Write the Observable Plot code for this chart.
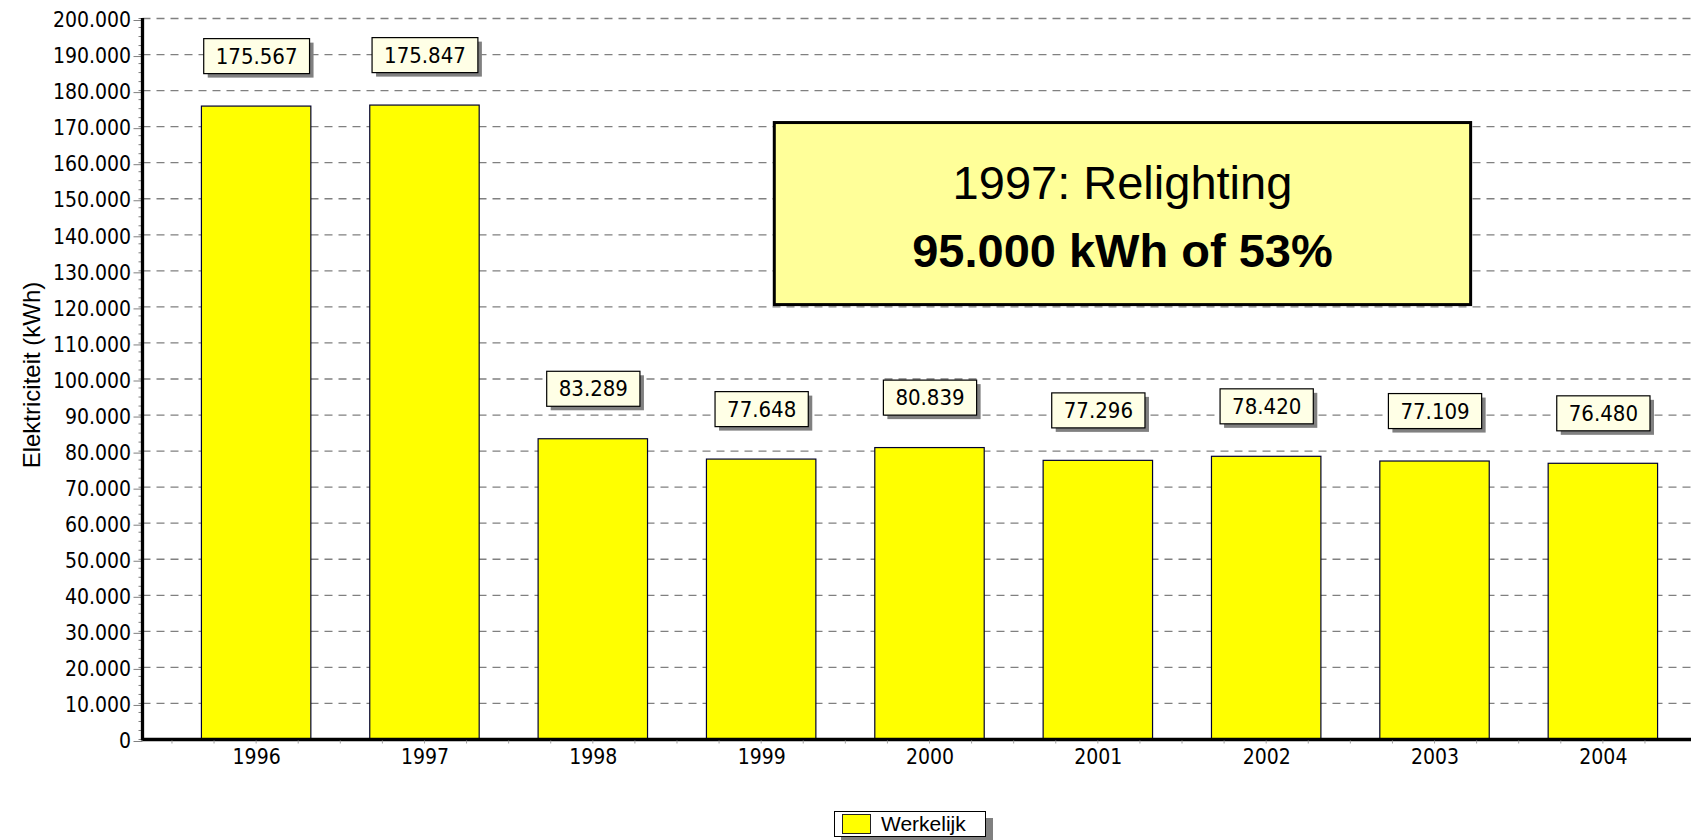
<!DOCTYPE html>
<html>
<head>
<meta charset="utf-8">
<script src="https://cdn.jsdelivr.net/npm/d3@7"></script>
<script src="https://cdn.jsdelivr.net/npm/@observablehq/plot@0.6"></script>
<style>
html, body { margin: 0; padding: 0; background: #fff; overflow: hidden; }
#wrap { position: relative; width: 1691px; height: 840px; overflow: hidden; }
#legend {
  position: absolute; left: 834px; top: 811px; height: 26px; width: 152px;
  box-sizing: border-box; border: 1px solid #000; background: #fff;
  box-shadow: 7px 7px 0 #808080; display: flex; align-items: center;
  font-family: "Liberation Sans", Arial, sans-serif; font-size: 21px; color: #000;
}
#legend .sw { width: 29px; height: 20px; box-sizing: border-box; background: #FFFF00; border: 1px solid #222; margin: 0 10px 0 7px; }
</style>
</head>
<body>
<div id="wrap"><div id="chart"></div><div id="legend"><span class="sw"></span><span id="legend-text"></span></div></div>
<script>
// ---- data ----
const years = ["1996", "1997", "1998", "1999", "2000", "2001", "2002", "2003", "2004"];
const values = [175567, 175847, 83289, 77648, 80839, 77296, 78420, 77109, 76480];
const yTicks = [0, 10000, 20000, 30000, 40000, 50000, 60000, 70000, 80000, 90000, 100000,
  110000, 120000, 130000, 140000, 150000, 160000, 170000, 180000, 190000, 200000];
const yMinorTicks = d3.range(0, 200001, 2500);
const yTitle = "Elektriciteit (kWh)";
const seriesName = "Werkelijk";
const annotLines = ["1997: Relighting", "95.000 kWh of 53%"];
const annotX = ["1999", "2003"];       // bands the note box spans between
const annotXFrac = [0.62, 0.83];       // position inside those bands
const annotY = [120500, 171000];       // value range the note box covers

const data = years.map((year, i) => ({year, value: values[i]}));
const fmt = d => d3.format(",")(d).replace(/,/g, ".");
const TICKFONT = "'DejaVu Sans Condensed', 'DejaVu Sans', sans-serif";
const ARIAL = "'Liberation Sans', Arial, sans-serif";

document.getElementById("legend-text").textContent = seriesName;

const plot = Plot.plot({
  width: 1691,
  height: 800,
  marginTop: 18,
  marginBottom: 61,
  marginLeft: 142.5,
  marginRight: 0,
  style: {fontFamily: TICKFONT, fontSize: "21px", color: "#000", background: "#fff"},
  x: {type: "band", domain: years, range: [142.5, 1716.5], padding: 0.35, round: false, label: null},
  y: {domain: [0, 200000], label: null},
  marks: [
    Plot.gridY(yTicks, {stroke: "#808080", strokeOpacity: 1, strokeWidth: 1.3, strokeDasharray: "8,6"}),
    Plot.axisY(yMinorTicks, {tickSize: 4, stroke: "#808080", tickFormat: () => "", label: null}),
    Plot.axisY(yTicks, {tickSize: 9, tickPadding: 3, stroke: "#808080", tickFormat: fmt, fontSize: 21, label: null, dy: 2}),
    Plot.barY(data, {x: "year", y: "value", fill: "#FFFF00", stroke: "#000030", strokeWidth: 1.2}),
    Plot.ruleY([0], {stroke: "#000", strokeWidth: 3.3}),
    Plot.axisX({tickSize: 0, tickPadding: 10, fontSize: 21, label: null}),
    Plot.text(data, {x: "year", y: "value", text: d => fmt(d.value), dy: -50, fontSize: 22, fill: "#000"}),
    Plot.text([yTitle], {frameAnchor: "left", textAnchor: "middle", rotate: -90, dx: -111, dy: -4, fontSize: 24, fontFamily: ARIAL, fill: "#000"})
  ]
});

document.getElementById("chart").append(plot);

const svg = d3.select(plot);
const xs = plot.scale("x"), ys = plot.scale("y");
const y0 = ys.apply(0);

// small minor ticks under the x axis (quarter steps of the band scale)
const step = xs.step || (xs.bandwidth / (1 - 0.35));
const minorX = [];
years.forEach(yr => {
  const c = xs.apply(yr) + xs.bandwidth / 2;
  for (let k = -2; k <= 1; k++) minorX.push(c + k * step / 4);
});
svg.append("g").selectAll("line").data(minorX).join("line")
  .attr("x1", d => d).attr("x2", d => d)
  .attr("y1", y0 + 1.6).attr("y2", y0 + 4.5)
  .attr("stroke", "#a0a0a0").attr("stroke-width", 1);

// y axis line
svg.append("line")
  .attr("x1", xs.range[0]).attr("x2", xs.range[0])
  .attr("y1", ys.apply(200000)).attr("y2", y0 + 1.6)
  .attr("stroke", "#000").attr("stroke-width", 3.3);

// value label boxes with shadow
const labelSet = new Set(values.map(fmt));
svg.selectAll("text").filter(function () {
  return labelSet.has(this.textContent) && this.childElementCount === 0;
}).each(function () {
  const b = this.getBBox();
  const padX = 12, padY = 5;
  const g = this.parentNode;
  const x = b.x - padX, y = b.y - padY, w = b.width + 2 * padX, h = b.height + 2 * padY;
  const ns = "http://www.w3.org/2000/svg";
  const tr = this.getAttribute("transform");
  const sh = document.createElementNS(ns, "rect");
  sh.setAttribute("x", x + 4); sh.setAttribute("y", y + 4);
  sh.setAttribute("width", w); sh.setAttribute("height", h);
  sh.setAttribute("fill", "#808080");
  const bx = document.createElementNS(ns, "rect");
  bx.setAttribute("x", x); bx.setAttribute("y", y);
  bx.setAttribute("width", w); bx.setAttribute("height", h);
  bx.setAttribute("fill", "#FFFFE6"); bx.setAttribute("stroke", "#000"); bx.setAttribute("stroke-width", 1.2);
  if (tr) { sh.setAttribute("transform", tr); bx.setAttribute("transform", tr); }
  g.insertBefore(sh, this);
  g.insertBefore(bx, this);
});

// annotation note
const ax1 = xs.apply(annotX[0]) + annotXFrac[0] * xs.bandwidth;
const ax2 = xs.apply(annotX[1]) + annotXFrac[1] * xs.bandwidth;
const ay1 = ys.apply(annotY[1]), ay2 = ys.apply(annotY[0]);
const note = svg.append("g");
note.append("rect")
  .attr("x", ax1).attr("y", ay1).attr("width", ax2 - ax1).attr("height", ay2 - ay1)
  .attr("fill", "#FFFF99").attr("stroke", "#000").attr("stroke-width", 3);
const cx = (ax1 + ax2) / 2, cy = (ay1 + ay2) / 2;
note.append("text").attr("x", cx).attr("y", cy - 31)
  .attr("text-anchor", "middle").attr("dominant-baseline", "central")
  .attr("font-family", ARIAL).attr("font-size", 47).attr("fill", "#000")
  .text(annotLines[0]);
note.append("text").attr("x", cx).attr("y", cy + 37)
  .attr("text-anchor", "middle").attr("dominant-baseline", "central")
  .attr("font-family", ARIAL).attr("font-size", 47).attr("font-weight", "bold").attr("fill", "#000")
  .text(annotLines[1]);
</script>
</body>
</html>
